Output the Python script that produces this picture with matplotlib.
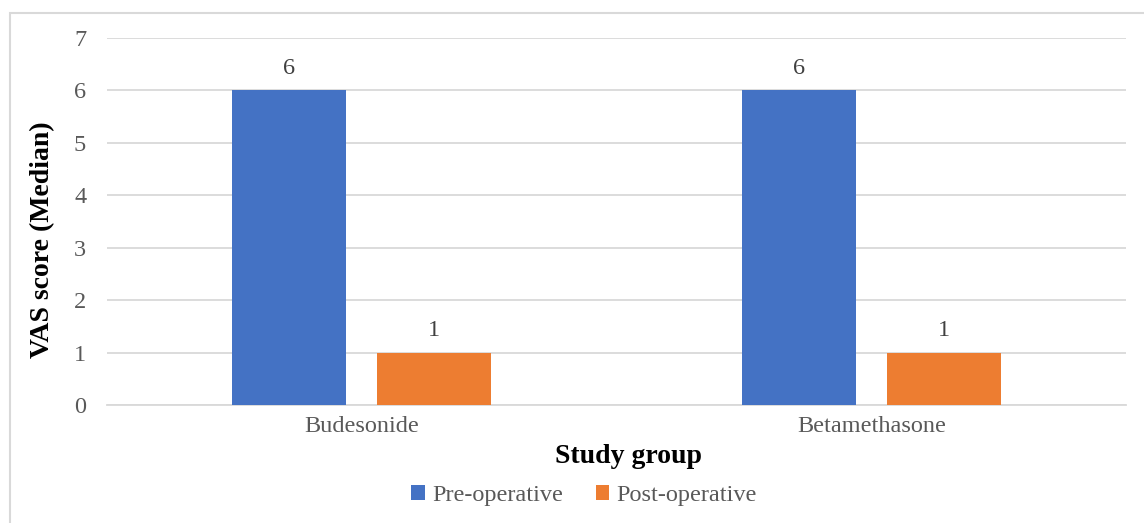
import numpy as np
import matplotlib.pyplot as plt
from matplotlib.patches import Rectangle

# VAS scores per study group
groups = ["Budesonide", "Betamethasone"]
pre_op = [6, 6]
post_op = [1, 1]
yticks = [0, 1, 2, 3, 4, 5, 6, 7]

blue = "#4472C4"
orange = "#ED7D31"
grey = "#595959"
grid = "#D9D9D9"

plt.rcParams["font.family"] = ["Liberation Serif", "DejaVu Serif"]

fig = plt.figure(figsize=(11.44, 5.23), dpi=100)
W, H = 1144, 523
ax = fig.add_axes([107 / W, 1 - 405 / H, (1126 - 107) / W, (405 - 38) / H])

x = np.arange(len(groups))
width = 0.2235
off = 0.1422
b1 = ax.bar(x - off, pre_op, width, color=blue, label="Pre-operative", zorder=3)
b2 = ax.bar(x + off, post_op, width, color=orange, label="Post-operative", zorder=3)

for bars in (b1, b2):
    ax.bar_label(bars, padding=8, fontsize=17.5, color="#404040")

ax.set_xlim(-0.5, 1.5)
ax.set_ylim(0, 7)
ax.set_yticks(yticks)
ax.set_xticks(x)
ax.set_xticklabels(groups)
ax.tick_params(length=0, labelsize=17.5, labelcolor=grey)
ax.tick_params(axis="y", pad=15)
ax.tick_params(axis="x", pad=8)
ax.grid(axis="y", color=grid, linewidth=1.3, zorder=0)
for s in ("top", "right", "left"):
    ax.spines[s].set_visible(False)
ax.spines["bottom"].set_color(grid)
ax.spines["bottom"].set_linewidth(1.3)

ax.set_ylabel("VAS score (Median)", fontsize=20, fontweight="bold", color="black")
ax.yaxis.set_label_coords(-0.051, 0.45)
ax.set_xlabel("Study group", fontsize=20, fontweight="bold", color="black")
ax.xaxis.set_label_coords(0.512, -0.106)

leg = ax.legend(loc="center", bbox_to_anchor=(0.468, -0.246), ncol=2, frameon=False,
                fontsize=17.5, handlelength=0.55, handleheight=0.55, handletextpad=0.3,
                columnspacing=1.35)
for t in leg.get_texts():
    t.set_color(grey)

# chart frame
fig.patches.append(Rectangle((10 / W, -0.1), 1.2, 1 - 13 / H + 0.1, transform=fig.transFigure,
                             fill=False, edgecolor=grid, linewidth=1.5, zorder=0))

fig.savefig("out.png", dpi=100)
